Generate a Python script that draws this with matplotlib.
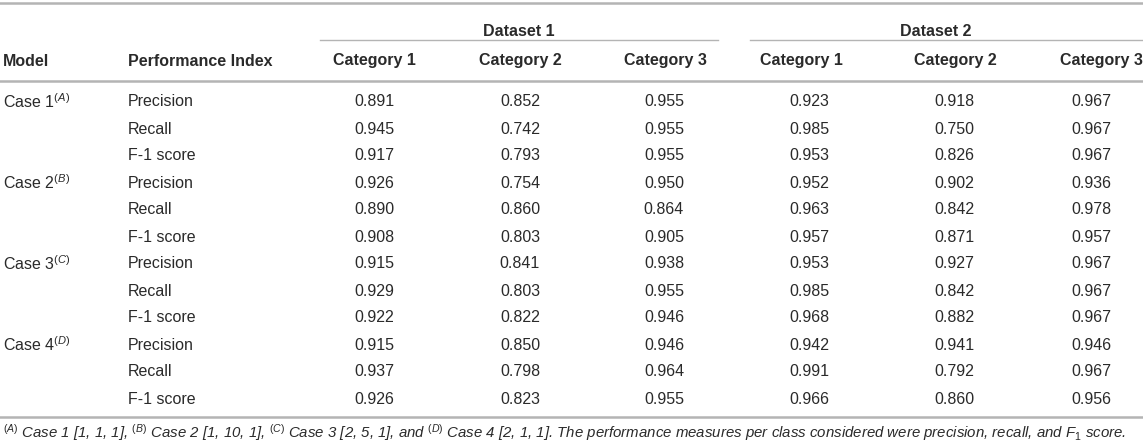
import matplotlib
matplotlib.use("Agg")
import matplotlib.pyplot as plt

plt.rcParams['font.family'] = ['Liberation Sans', 'DejaVu Sans']
plt.rcParams['mathtext.fontset'] = 'custom'
plt.rcParams['mathtext.rm'] = 'Liberation Sans'
plt.rcParams['mathtext.it'] = 'Liberation Sans:italic'
plt.rcParams['mathtext.bf'] = 'Liberation Sans:bold'

# table data
datasets = ["Dataset 1", "Dataset 2"]
categories = ["Category 1", "Category 2", "Category 3"]
models = ["Case 1", "Case 2", "Case 3", "Case 4"]
model_marks = ["A", "B", "C", "D"]
indices = ["Precision", "Recall", "F-1 score"]

dataset1 = [
    [0.891, 0.852, 0.955],
    [0.945, 0.742, 0.955],
    [0.917, 0.793, 0.955],
    [0.926, 0.754, 0.950],
    [0.890, 0.860, 0.864],
    [0.908, 0.803, 0.905],
    [0.915, 0.841, 0.938],
    [0.929, 0.803, 0.955],
    [0.922, 0.822, 0.946],
    [0.915, 0.850, 0.946],
    [0.937, 0.798, 0.964],
    [0.926, 0.823, 0.955],
]
dataset2 = [
    [0.923, 0.918, 0.967],
    [0.985, 0.750, 0.967],
    [0.953, 0.826, 0.967],
    [0.952, 0.902, 0.936],
    [0.963, 0.842, 0.978],
    [0.957, 0.871, 0.957],
    [0.953, 0.927, 0.967],
    [0.985, 0.842, 0.967],
    [0.968, 0.882, 0.967],
    [0.942, 0.941, 0.946],
    [0.991, 0.792, 0.967],
    [0.966, 0.860, 0.956],
]
weights = ["[1, 1, 1]", "[1, 10, 1]", "[2, 5, 1]", "[2, 1, 1]"]

W, H = 1143, 446
fig = plt.figure(figsize=(W / 100, H / 100), dpi=100)
ax = fig.add_axes([0, 0, 1, 1])
ax.set_xlim(0, W)
ax.set_ylim(H, 0)
ax.axis('off')

txt = '#2a2a2a'
line_c = '#b4b4b4'
fs = 11.5

head_x = [374, 520, 665, 801, 955, 1101]
val_x = [374, 520, 664, 809, 954, 1091]
ds_x = [519, 936]
ds_span = [(320, 718), (750, W)]

# rules
ax.plot([0, W], [3, 3], color=line_c, lw=1.8)
ax.plot([0, W], [81, 81], color=line_c, lw=1.8)
for a, b in ds_span:
    ax.plot([a, b], [40, 40], color=line_c, lw=1.0)

for name, x in zip(datasets, ds_x):
    ax.text(x, 31, name, ha='center', va='center', fontsize=fs, fontweight='bold', color=txt)

ax.text(3, 61, "Model", ha='left', va='center', fontsize=fs, fontweight='bold', color=txt)
ax.text(128, 61, "Performance Index", ha='left', va='center', fontsize=fs, fontweight='bold', color=txt)
for j, x in enumerate(head_x):
    ax.text(x, 61, categories[j % 3], ha='center', va='center', fontsize=fs, fontweight='bold', color=txt)

row_y0, row_dy = 102, 27
rows = [(m, k) for m in range(len(models)) for k in range(len(indices))]
for i, (m, k) in enumerate(rows):
    y = row_y0 + row_dy * i
    if k == 0:
        ax.text(3, y, models[m] + r"$^{\mathit{(" + model_marks[m] + r")}}$",
                ha='left', va='center', fontsize=fs, color=txt)
    ax.text(128, y, indices[k], ha='left', va='center', fontsize=fs, color=txt)
    vals = dataset1[i] + dataset2[i]
    for x, v in zip(val_x, vals):
        ax.text(x, y, f"{v:.3f}", ha='center', va='center', fontsize=fs, color=txt)

y_end = row_y0 + row_dy * (len(rows) - 1) + 18
ax.plot([0, W], [y_end, y_end], color=line_c, lw=1.8)

parts = []
for n, (m, mk, w) in enumerate(zip(models, model_marks, weights)):
    s = r"$^{\mathit{(" + mk + r")}}$ " + f"{m} {w}"
    if n == len(models) - 1:
        parts.append("and " + s)
    else:
        parts.append(s)
note = ", ".join(parts) + (". The performance measures per class considered were precision, "
                           "recall, and F$_{\\mathit{1}}$ score.")
ax.text(3, y_end + 16, note, ha='left', va='center', fontsize=10.8, style='italic', color=txt)

fig.savefig("out.png", dpi=100)
